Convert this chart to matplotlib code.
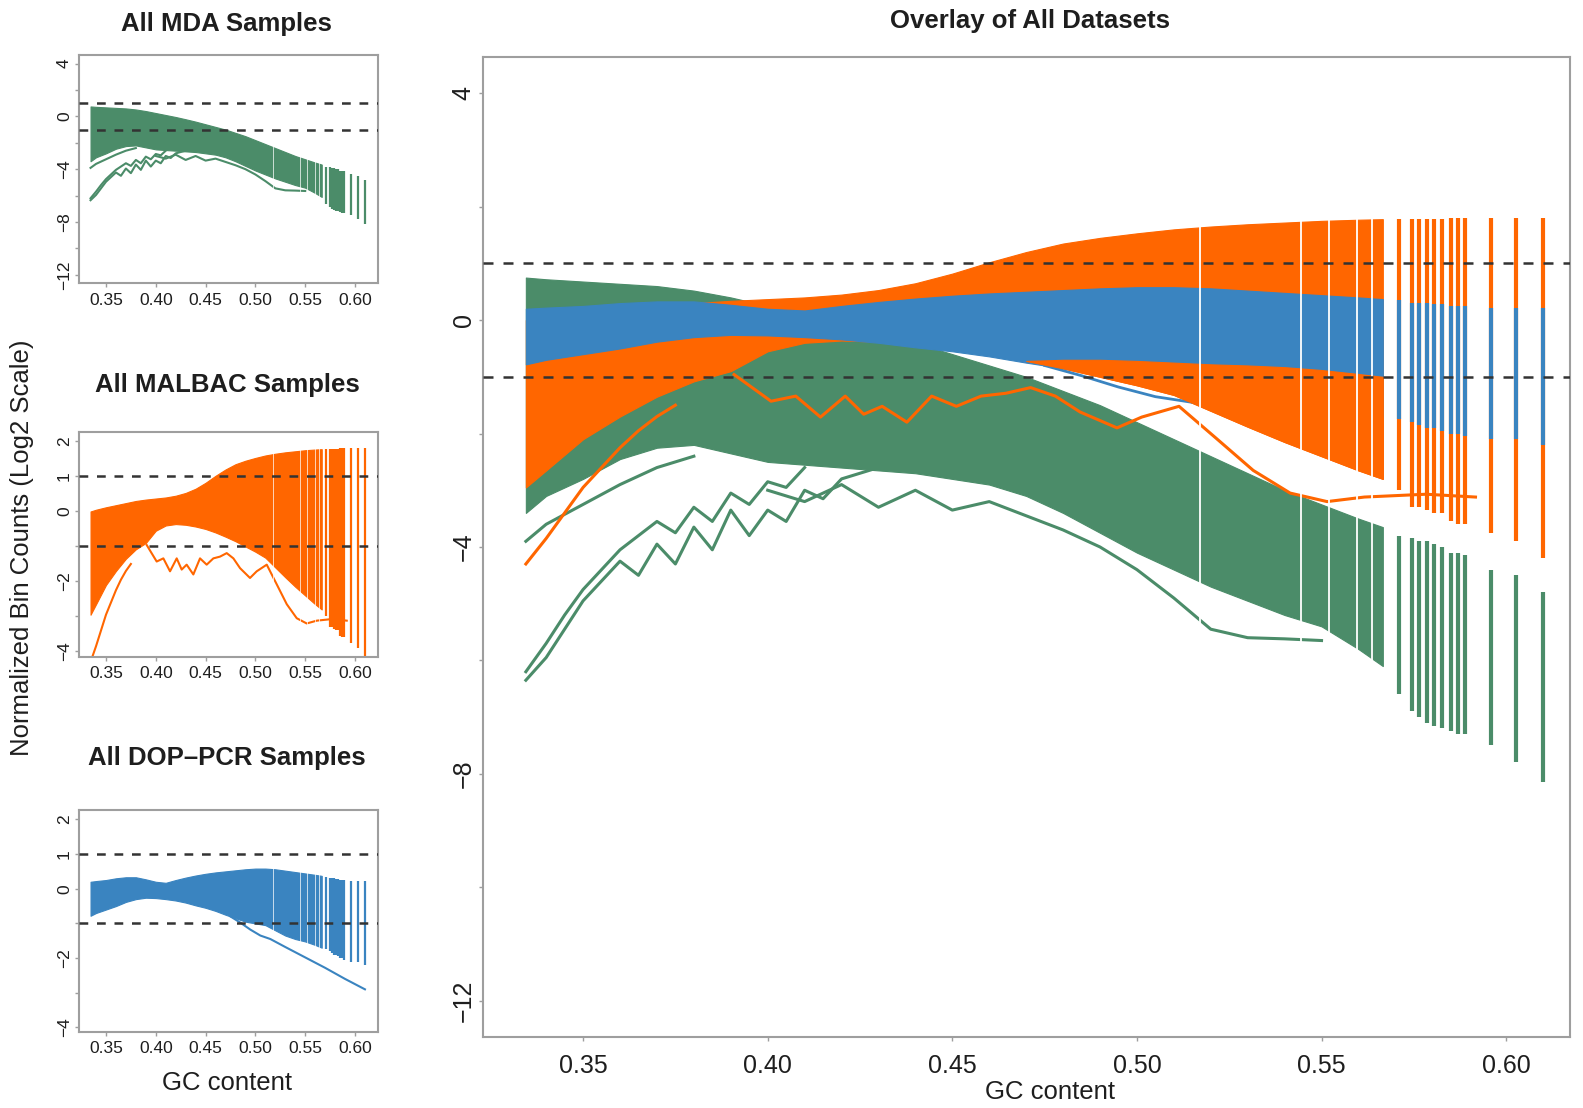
import matplotlib.pyplot as plt

plt.rcParams['font.family'] = ['Liberation Sans', 'DejaVu Sans']

GREEN = '#4b8c69'
ORANGE = '#ff6600'
BLUE = '#3a84c0'
TXT = '#1e1e1e'
FRAME = '#9e9e9e'

# =========================
# GC bins of the dense part (all three datasets)
# =========================
band_gc = [0.3345, 0.34, 0.35, 0.36, 0.37, 0.38, 0.39, 0.40, 0.41, 0.42, 0.43,
           0.44, 0.45, 0.46, 0.47, 0.48, 0.49, 0.50, 0.51, 0.52, 0.53, 0.54,
           0.55, 0.56, 0.5666]

# envelopes (log2 normalized bin counts)
mda_top = [0.75, 0.72, 0.68, 0.64, 0.60, 0.52, 0.40, 0.25, 0.10, -0.05, -0.22,
           -0.40, -0.60, -0.80, -1.00, -1.25, -1.50, -1.80, -2.10, -2.40, -2.70,
           -3.00, -3.25, -3.50, -3.65]
mda_bot = [-3.40, -3.10, -2.80, -2.45, -2.25, -2.20, -2.35, -2.50, -2.55, -2.60,
           -2.65, -2.70, -2.80, -2.90, -3.10, -3.40, -3.75, -4.10, -4.40, -4.70,
           -4.95, -5.20, -5.40, -5.80, -6.10]

malbac_top = [0.00, 0.05, 0.12, 0.18, 0.24, 0.30, 0.34, 0.37, 0.40, 0.45, 0.53,
              0.65, 0.82, 1.02, 1.20, 1.35, 1.45, 1.53, 1.60, 1.65, 1.69, 1.72,
              1.75, 1.77, 1.78]
malbac_bot = [-2.95, -2.65, -2.10, -1.70, -1.35, -1.08, -0.90, -0.55, -0.40,
              -0.36, -0.38, -0.43, -0.50, -0.60, -0.72, -0.85, -1.00, -1.15,
              -1.32, -1.60, -1.88, -2.15, -2.40, -2.65, -2.80]

dop_top = [0.20, 0.22, 0.25, 0.30, 0.33, 0.33, 0.27, 0.20, 0.17, 0.25, 0.32,
           0.38, 0.43, 0.47, 0.50, 0.53, 0.56, 0.58, 0.58, 0.56, 0.52, 0.48,
           0.44, 0.40, 0.37]
dop_bot = [-0.78, -0.70, -0.60, -0.50, -0.38, -0.30, -0.26, -0.27, -0.30, -0.34,
           -0.40, -0.48, -0.55, -0.64, -0.75, -0.85, -0.95, -1.00, -1.05, -1.20,
           -1.35, -1.45, -1.52, -1.62, -1.70]

# MALBAC strands lying over the DOP band in the overlay
over_gc = [0.47, 0.48, 0.49, 0.50, 0.51, 0.52, 0.53, 0.54, 0.55, 0.56, 0.5666]
over_top = [-0.72, -0.70, -0.70, -0.72, -0.75, -0.78, -0.80, -0.83, -0.88,
            -0.95, -1.00]
over_bot = [-0.72, -0.85, -1.00, -1.15, -1.32, -1.60, -1.88, -2.15, -2.40,
            -2.65, -2.80]

# =========================
# sparse high-GC bins (vertical streaks)
# =========================
streak_gc = [0.5711, 0.5745, 0.5765, 0.5785, 0.5805, 0.5825, 0.5852, 0.5870,
             0.5888, 0.5958, 0.6028, 0.6101]
mda_streak_top = [-3.80, -3.85, -3.90, -3.90, -3.95, -4.00, -4.10, -4.10, -4.15,
                  -4.40, -4.50, -4.80]
mda_streak_bot = [-6.60, -6.90, -7.00, -7.10, -7.15, -7.20, -7.25, -7.30, -7.30,
                  -7.50, -7.80, -8.15]
malbac_streak_top = [1.78, 1.78, 1.78, 1.78, 1.79, 1.79, 1.80, 1.80, 1.80, 1.80,
                     1.80, 1.80]
malbac_streak_bot = [-3.00, -3.30, -3.30, -3.35, -3.40, -3.40, -3.55, -3.60,
                     -3.60, -3.75, -3.90, -4.20]
dop_streak_top = [0.35, 0.30, 0.30, 0.30, 0.28, 0.28, 0.25, 0.25, 0.25, 0.22,
                  0.22, 0.22]
dop_streak_bot = [-1.75, -1.80, -1.85, -1.90, -1.90, -1.95, -2.00, -2.00, -2.05,
                  -2.10, -2.10, -2.20]

# empty GC bins inside the dense part
gap_gc = [0.5172, 0.5444, 0.5520, 0.5596, 0.5636]

# =========================
# single outlying samples
# =========================
mda_low1_gc = [0.3345, 0.340, 0.345, 0.350, 0.355, 0.360, 0.365, 0.370, 0.375,
               0.380, 0.385, 0.390, 0.395, 0.400, 0.405, 0.410, 0.415, 0.420,
               0.430, 0.440]
mda_low1 = [-6.35, -5.95, -5.45, -4.95, -4.60, -4.25, -4.50, -3.95, -4.30, -3.65,
            -4.05, -3.35, -3.80, -3.35, -3.55, -3.00, -3.15, -2.80, -2.60, -2.40]
mda_low2_gc = [0.3345, 0.340, 0.345, 0.350, 0.355, 0.360, 0.365, 0.370, 0.375,
               0.380, 0.385, 0.390, 0.395, 0.400, 0.405, 0.410]
mda_low2 = [-6.20, -5.70, -5.20, -4.75, -4.40, -4.05, -3.80, -3.55, -3.75, -3.30,
            -3.55, -3.05, -3.25, -2.85, -2.95, -2.60]
mda_low3_gc = [0.40, 0.41, 0.42, 0.43, 0.44, 0.45, 0.46, 0.47, 0.48, 0.49, 0.50,
               0.51, 0.52, 0.53, 0.54, 0.55]
mda_low3 = [-3.00, -3.20, -2.90, -3.30, -3.00, -3.35, -3.20, -3.45, -3.70, -4.00,
            -4.40, -4.90, -5.45, -5.60, -5.62, -5.65]
mda_low4_gc = [0.3345, 0.34, 0.35, 0.36, 0.37, 0.38]
mda_low4 = [-3.90, -3.60, -3.25, -2.90, -2.60, -2.40]

malbac_zig_gc = [0.3909, 0.4009, 0.4076, 0.4143, 0.4210, 0.4260, 0.4310, 0.4377,
                 0.4444, 0.4511, 0.4578, 0.4645, 0.4712, 0.4779, 0.4846, 0.4946,
                 0.5013, 0.5114, 0.5214, 0.5315, 0.5415, 0.5515, 0.5616, 0.5783,
                 0.5917]
malbac_zig = [-0.96, -1.43, -1.34, -1.71, -1.34, -1.66, -1.52, -1.80, -1.34, -1.52,
              -1.34, -1.29, -1.19, -1.34, -1.62, -1.90, -1.71, -1.52, -2.08, -2.65,
              -3.05, -3.20, -3.12, -3.07, -3.12]
malbac_rise_gc = [0.3345, 0.34, 0.345, 0.35, 0.355, 0.36, 0.365, 0.37, 0.375]
malbac_rise = [-4.30, -3.85, -3.40, -2.95, -2.60, -2.25, -1.95, -1.70, -1.50]

dop_out_gc = [0.475, 0.485, 0.495, 0.505, 0.515, 0.53, 0.55, 0.57, 0.59, 0.61]
dop_out = [-0.80, -0.98, -1.18, -1.35, -1.45, -1.68, -1.98, -2.28, -2.60, -2.90]


def draw_mda(ax, lw_out, lw_streak):
    ax.fill_between(band_gc, mda_bot, mda_top, color=GREEN, lw=0.8, zorder=1)
    ax.vlines(streak_gc, mda_streak_bot, mda_streak_top, colors=GREEN,
              lw=lw_streak, zorder=1)
    for gx, gy in [(mda_low1_gc, mda_low1), (mda_low2_gc, mda_low2),
                   (mda_low3_gc, mda_low3), (mda_low4_gc, mda_low4)]:
        ax.plot(gx, gy, color=GREEN, lw=lw_out, zorder=1.5)


def draw_malbac(ax, lw_out, lw_streak):
    ax.fill_between(band_gc, malbac_bot, malbac_top, color=ORANGE, lw=0.8,
                    zorder=2)
    ax.vlines(streak_gc, malbac_streak_bot, malbac_streak_top, colors=ORANGE,
              lw=lw_streak, zorder=2)
    for gx, gy in [(malbac_zig_gc, malbac_zig), (malbac_rise_gc, malbac_rise)]:
        ax.plot(gx, gy, color=ORANGE, lw=lw_out, zorder=2.5)


def draw_dop(ax, lw_out, lw_streak, n_out, z_out):
    ax.fill_between(band_gc, dop_bot, dop_top, color=BLUE, lw=0.8, zorder=3)
    ax.vlines(streak_gc, dop_streak_bot, dop_streak_top, colors=BLUE,
              lw=lw_streak, zorder=3)
    ax.plot(dop_out_gc[:n_out], dop_out[:n_out], color=BLUE, lw=lw_out,
            zorder=z_out)


def finish(ax, xlim, ylim, gap_span, yticks, ylabels, fs, pad_x, gap_lw, dash):
    ax.vlines(gap_gc, gap_span[0], gap_span[1], colors='white', lw=gap_lw,
              zorder=4)
    for h in (1, -1):
        ax.axhline(h, color='#333333', lw=1.8, ls=(0, dash), zorder=6)
    ax.set_xlim(xlim)
    ax.set_ylim(ylim)
    ax.set_xticks([0.35, 0.40, 0.45, 0.50, 0.55, 0.60])
    ax.set_xticklabels(['0.35', '0.40', '0.45', '0.50', '0.55', '0.60'],
                       fontsize=fs, color=TXT)
    ax.set_yticks(yticks)
    ax.set_yticklabels(ylabels, fontsize=fs, color=TXT, rotation=90,
                       va='center')
    ax.tick_params(axis='x', length=3, width=1, color=FRAME, pad=pad_x)
    ax.tick_params(axis='y', length=3, width=1, color=FRAME, pad=2)
    for s in ax.spines.values():
        s.set_color(FRAME)
        s.set_linewidth(1.5)


fig = plt.figure(figsize=(15.83, 11.08), dpi=100)

ax_main = fig.add_axes([0.3049, 0.0641, 0.6869, 0.8845])
ax_mda = fig.add_axes([0.0499, 0.7443, 0.1887, 0.2060])
ax_mal = fig.add_axes([0.0499, 0.4073, 0.1887, 0.2031])
ax_dop = fig.add_axes([0.0499, 0.0689, 0.1887, 0.2001])

M = '\u2212'
big_ticks = [-12, -10, -8, -6, -4, -2, 0, 2, 4]
big_labels = [M + '12', '', M + '8', '', M + '4', '', '0', '', '4']
small_ticks = [-4, -3, -2, -1, 0, 1, 2]
small_labels = [M + '4', '', M + '2', '', '0', '1', '2']

# =========================
# Overlay
# =========================
draw_mda(ax_main, 2.2, 3.0)
draw_malbac(ax_main, 2.2, 3.0)
draw_dop(ax_main, 2.0, 3.0, 7, 3.2)
ax_main.fill_between(over_gc, over_bot, over_top, color=ORANGE, lw=0.8,
                     zorder=3.5)
finish(ax_main, (0.3228, 0.6173), (-12.64, 4.64), (-8.4, 1.95), big_ticks,
       big_labels, 18, 9, 1.3, (4, 4))

# =========================
# Single datasets
# =========================
draw_mda(ax_mda, 1.5, 1.6)
finish(ax_mda, (0.3229, 0.6228), (-12.64, 4.64), (-8.4, 1.95), big_ticks,
       big_labels, 12.5, 4, 0.5, (3.5, 3.5))

draw_malbac(ax_mal, 1.5, 1.6)
finish(ax_mal, (0.3229, 0.6228), (-4.15, 2.28), (-4.0, 2.0), small_ticks,
       small_labels, 12.5, 4, 0.5, (3.5, 3.5))

draw_dop(ax_dop, 1.5, 1.6, len(dop_out), 5)
finish(ax_dop, (0.3229, 0.6228), (-4.12, 2.27), (-4.0, 2.0), small_ticks,
       small_labels, 12.5, 4, 0.5, (3.5, 3.5))

# titles and labels
fig.text(0.1428, 0.9723, 'All MDA Samples', fontsize=18.5, weight='bold',
         ha='center', va='baseline', color=TXT)
fig.text(0.1434, 0.6465, 'All MALBAC Samples', fontsize=18.5, weight='bold',
         ha='center', va='baseline', color=TXT)
fig.text(0.1434, 0.3096, 'All DOP\u2013PCR Samples', fontsize=18.5,
         weight='bold', ha='center', va='baseline', color=TXT)
fig.text(0.6507, 0.9745, 'Overlay of All Datasets', fontsize=18.5,
         weight='bold', ha='center', va='baseline', color=TXT)
fig.text(0.6633, 0.0081, 'GC content', fontsize=18.5, ha='center',
         va='baseline', color=TXT)
fig.text(0.1434, 0.0162, 'GC content', fontsize=18.5, ha='center',
         va='baseline', color=TXT)
fig.text(0.0139, 0.5054, 'Normalized Bin Counts (Log2 Scale)', fontsize=18.5,
         rotation=90, ha='center', va='center', color=TXT)

fig.savefig('out.png', dpi=100)
